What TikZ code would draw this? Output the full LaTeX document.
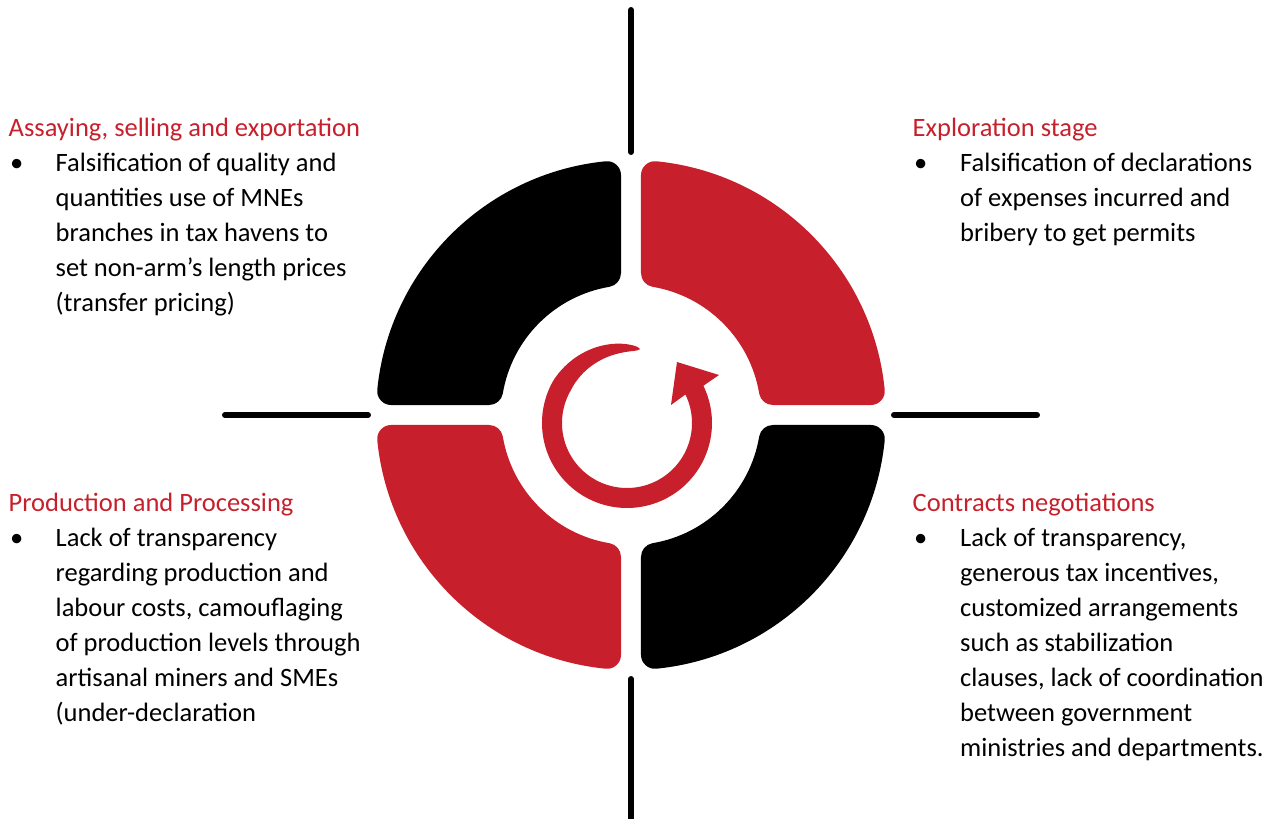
\documentclass[tikz,border=0pt]{standalone}
\usepackage{fontspec}
\setmainfont{Carlito}
\definecolor{cred}{RGB}{199,32,44}
\definecolor{cblack}{RGB}{0,0,0}
\begin{document}
\begin{tikzpicture}[x=1pt,y=1pt,
  declare function={wd(\t)=20*sqrt(min(1,(\t-80)/70));},
  seg/.style={line width=28pt,line join=round},
  cross/.style={line width=6pt,line cap=round,draw=black},
  txt/.style={inner sep=0pt,anchor=base west,font=\fontsize{26.5}{35}\selectfont},
  head/.style={txt,text=cred},
  body/.style={txt,align=left}]
\useasboundingbox (-631,-404) rectangle (644,415);
% ring segments
\foreach \rot/\col in {0/cblack,90/cred,180/cblack,270/cred}{
  \begin{scope}[rotate=\rot]
    \filldraw[seg,fill=\col,draw=\col] (95.715:241) arc[start angle=95.715,end angle=174.285,radius=241]
      -- (170.406:144) arc[start angle=170.406,end angle=99.594,radius=144] -- cycle;
  \end{scope}
}
% cross lines
\coordinate (t1) at (0,405); \coordinate (t2) at (0,263);
\coordinate (b1) at (0,-264); \coordinate (b2) at (0,-412);
\coordinate (l1) at (-406,0); \coordinate (l2) at (-263,0);
\coordinate (r1) at (263,0); \coordinate (r2) at (406,0);
\draw[cross] (t1) -- (t2);
\draw[cross] (b1) -- (b2);
\draw[cross] (l1) -- (l2);
\draw[cross] (r1) -- (r2);
% circular arrow
\begin{scope}[shift={(-4,-8)}]
  \fill[cred] plot[domain=80:386,samples=160] (\x:{75+wd(\x)/2})
    -- (92,48) -- (50,61) -- (44,18)
    -- plot[domain=386:80,samples=160] (\x:{75-wd(\x)/2}) -- cycle;
\end{scope}
% texts (body nodes anchored at the baseline of their last line)
\node[head] (h1) at (-622.5,278) {Assaying, selling and exportation};
\node[txt] (p1) at (-621,243.3) {•};
\node[body] (d1) at (-575.5,103.3) {Falsification of quality and\\quantities use of MNEs\\branches in tax havens to\\set non-arm’s length prices\\(transfer pricing)};
\node[head] (h2) at (281.5,278) {Exploration stage};
\node[txt] (p2) at (283,243.3) {•};
\node[body] (d2) at (329,173.3) {Falsification of declarations\\of expenses incurred and\\bribery to get permits};
\node[head] (h3) at (-622.5,-96.7) {Production and Processing};
\node[txt] (p3) at (-621,-131.7) {•};
\node[body] (d3) at (-575.5,-306.7) {Lack of transparency\\regarding production and\\labour costs, camouflaging\\of production levels through\\artisanal miners and SMEs\\(under-declaration};
\node[head] (h4) at (281.5,-96.7) {Contracts negotiations};
\node[txt] (p4) at (283,-131.7) {•};
\node[body] (d4) at (329,-341.7) {Lack of transparency,\\generous tax incentives,\\customized arrangements\\such as stabilization\\clauses, lack of coordination\\between government\\ministries and departments.};
\end{tikzpicture}
\end{document}
